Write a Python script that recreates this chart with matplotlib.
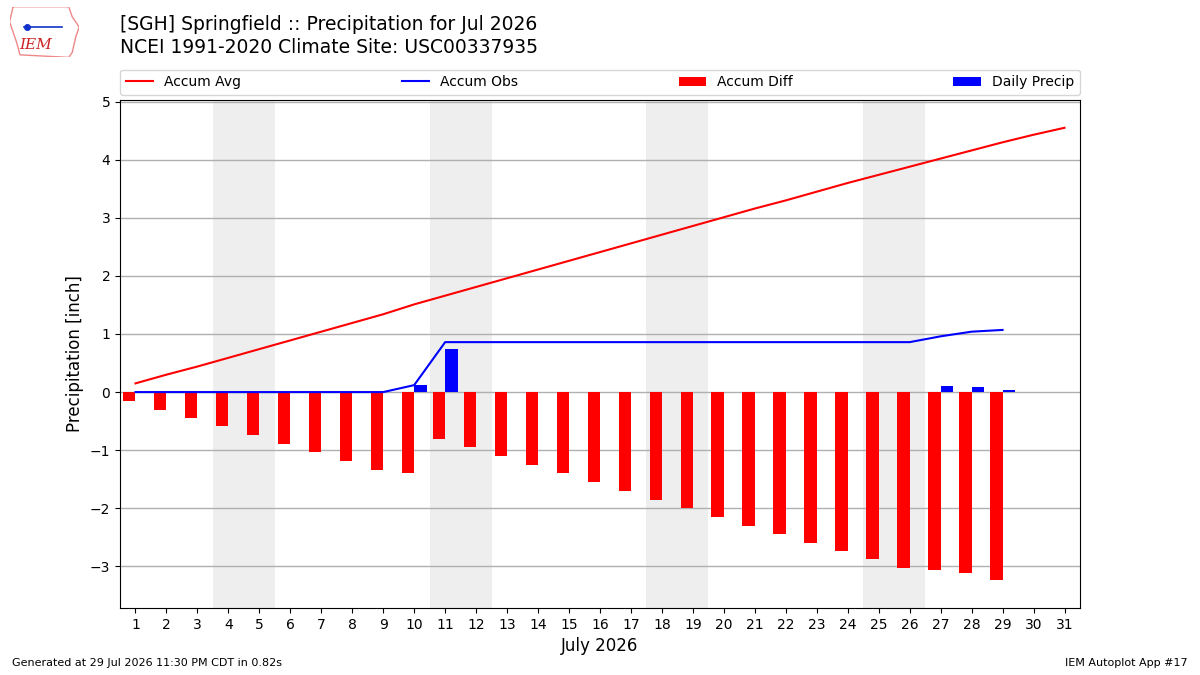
import numpy as np
import matplotlib
matplotlib.use("Agg")
import matplotlib.pyplot as plt

# daily values
days = list(range(1, 32))
obs_days = list(range(1, 30))
accum_avg = [0.15, 0.30, 0.44, 0.59, 0.74, 0.89, 1.04, 1.19, 1.34, 1.51,
             1.66, 1.81, 1.96, 2.11, 2.26, 2.41, 2.56, 2.71, 2.86, 3.01,
             3.16, 3.30, 3.45, 3.60, 3.74, 3.88, 4.02, 4.16, 4.30, 4.43, 4.55]
daily_precip = [0, 0, 0, 0, 0, 0, 0, 0, 0, 0.12,
                0.74, 0, 0, 0, 0, 0, 0, 0, 0, 0,
                0, 0, 0, 0, 0, 0, 0.10, 0.08, 0.03]
weekends = [(3.5, 5.5), (10.5, 12.5), (17.5, 19.5), (24.5, 26.5)]

accum_obs = np.cumsum(daily_precip)
accum_diff = accum_obs - np.array(accum_avg[:len(obs_days)])

fig = plt.figure(figsize=(12, 6.75), dpi=100)
ax = fig.add_axes([0.1, 0.099, 0.8, 0.753])

for a, b in weekends:
    ax.axvspan(a, b, color="#eeeeee", zorder=0, lw=0)

ax.plot(days, accum_avg, color="r", lw=1.5, label="Accum Avg", zorder=3)
ax.plot(obs_days, accum_obs, color="b", lw=1.5, label="Accum Obs", zorder=3)
ax.bar(obs_days, accum_diff, width=-0.4, align="edge", color="r",
       label="Accum Diff", zorder=2)
ax.bar(obs_days, daily_precip, width=0.4, align="edge", color="b",
       label="Daily Precip", zorder=2)

ax.set_xlim(0.5, 31.5)
ax.set_ylim(-3.72, 5.03)
ax.set_xticks(days)
ax.set_yticks(range(-3, 6))
ax.set_yticklabels([f"\u2212{abs(v)}" if v < 0 else str(v) for v in range(-3, 6)])
ax.grid(axis="y", color="#b0b0b0", lw=1)
ax.set_axisbelow(True)
ax.set_xlabel("July 2026", fontsize=12)
ax.set_ylabel("Precipitation [inch]", fontsize=12)

ax.legend(loc="lower left", bbox_to_anchor=(0, 1.01, 1, 0.05), ncol=4,
          mode="expand", borderaxespad=0, fontsize=10)

fig.text(0.1, 0.964, "[SGH] Springfield :: Precipitation for Jul 2026",
         fontsize=13.5, va="center")
fig.text(0.1, 0.929, "NCEI 1991-2020 Climate Site: USC00337935",
         fontsize=13.5, va="center")

# rough logo: state outline plus text
logo = fig.add_axes([0.008, 0.915, 0.058, 0.075])
logo.plot([0.05, 0.85, 0.9, 1.0, 0.95, 0.9, 0.85, 0.15, 0.1, 0.0, 0.05],
          [1.0, 1.0, 0.8, 0.6, 0.4, 0.1, 0.0, 0.05, 0.3, 0.7, 1.0],
          color="#e88", lw=1)
logo.text(0.38, 0.25, "IEM", color="#cc2222", fontsize=11, style="italic",
          family="DejaVu Serif", ha="center", va="center")
logo.plot([0.2, 0.75], [0.6, 0.6], color="#1133cc", lw=1.2)
logo.plot([0.25], [0.6], "o", color="#1133cc", ms=4)
logo.set_xlim(0, 1)
logo.set_ylim(0, 1)
logo.axis("off")

fig.text(0.01, 0.013, "Generated at 29 Jul 2026 11:30 PM CDT in 0.82s",
         fontsize=8)
fig.text(0.99, 0.013, "IEM Autoplot App #17", fontsize=8, ha="right")

fig.savefig("out.png", dpi=100)
